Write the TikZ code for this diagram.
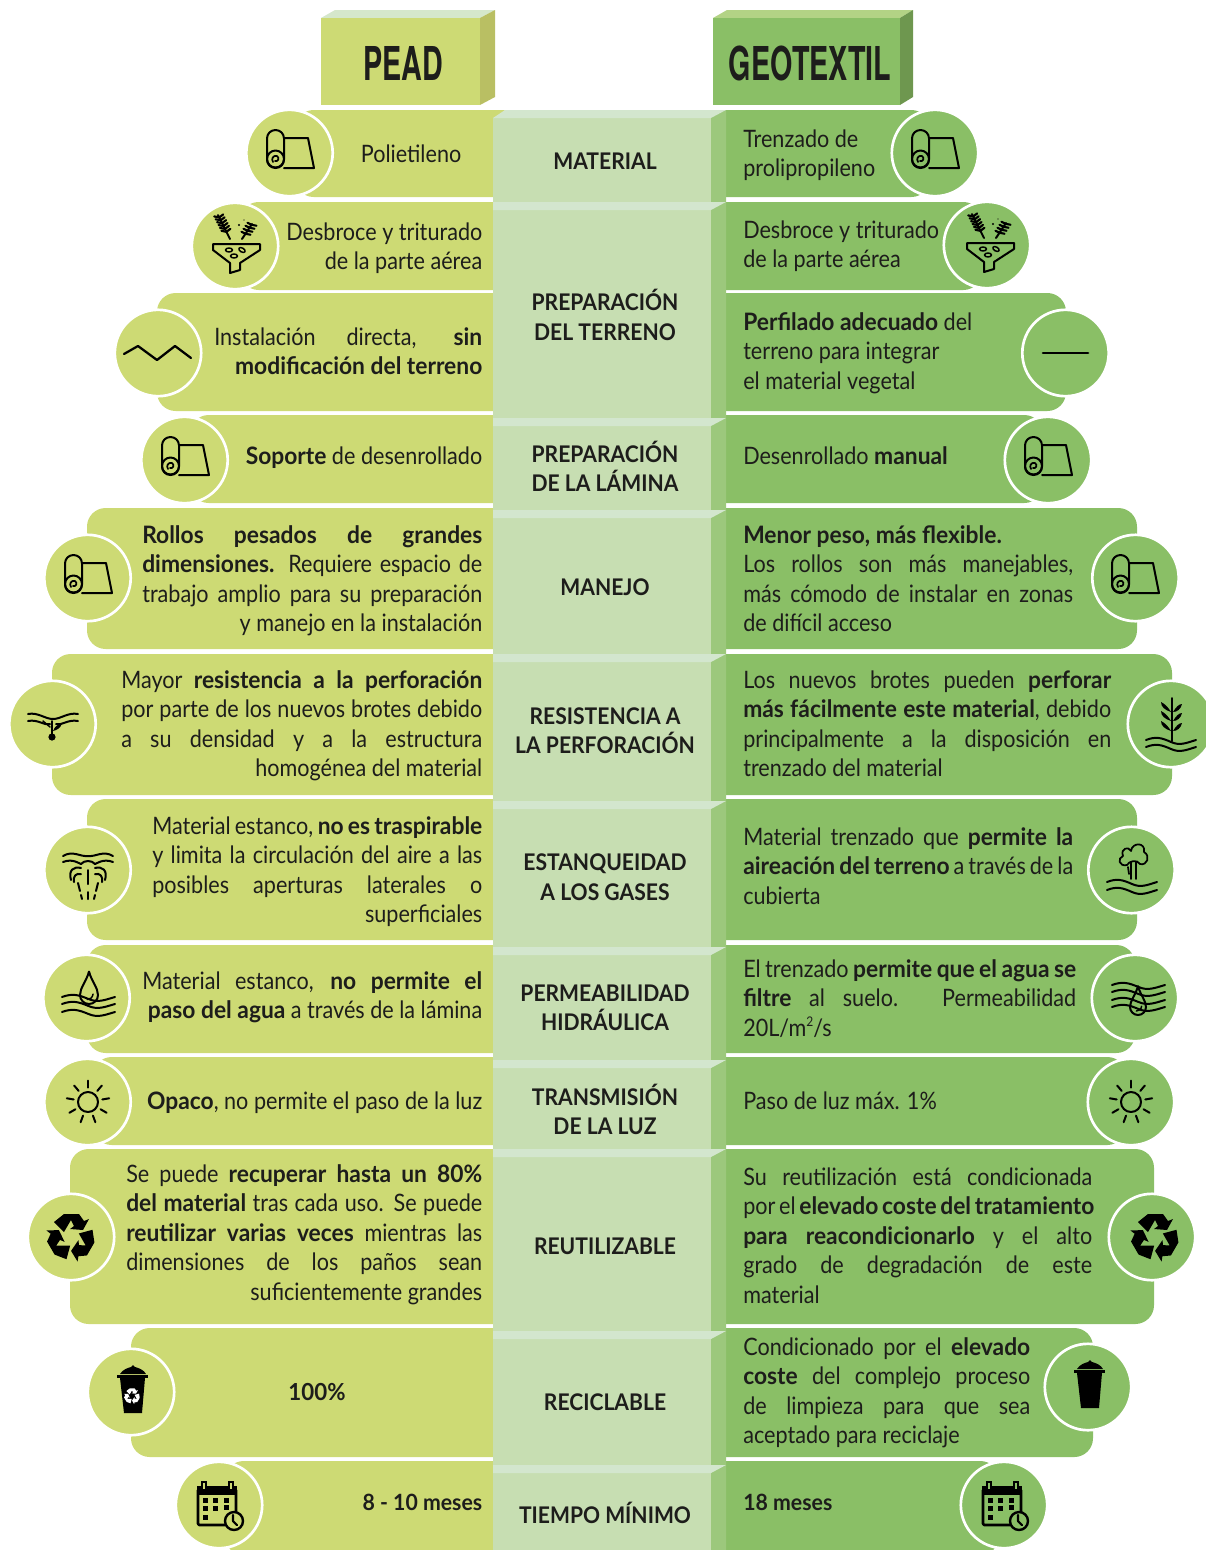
\documentclass[tikz,border=0pt]{standalone}
\usepackage{fontspec}
\setmainfont{Lato}[UprightFont=* Regular,BoldFont=* Bold,UprightFeatures={FakeStretch=.9},BoldFeatures={FakeStretch=.95}]
\newfontfamily\headf{TeX Gyre Heros}[BoldFont=* Bold,FakeStretch=.615]
\newfontfamily\centf{Lato}[UprightFont=* Bold,FakeStretch=.92]
\definecolor{pead}{HTML}{CDDA74}
\definecolor{peadside}{HTML}{B9BF63}
\definecolor{peadtop}{HTML}{D5E7CB}
\definecolor{geo}{HTML}{8ABF66}
\definecolor{geoside}{HTML}{6E974F}
\definecolor{geotop}{HTML}{B3D385}
\definecolor{cen}{HTML}{C7DEB2}
\definecolor{centop}{HTML}{D3E6CE}
\definecolor{censide}{HTML}{9CC87C}
\definecolor{ink}{HTML}{1D1D1B}
\newcommand\lnJ[1]{\makebox[\linewidth][s]{#1}\par}
\newcommand\lnR[1]{\hbox to\linewidth{\hfill #1}\par}
\newcommand\lnL[1]{\hbox to\linewidth{#1\hfill}\par}
\newcommand\blk[5]{\node[anchor=base west,inner sep=0pt,text=ink,font=\fontsize{18}{22.2}\selectfont] (#1) at (#2,#3) {\parbox[t]{\dimexpr#4pt*3/4\relax}{\parindent=0pt\baselineskip=22.2pt\lineskiplimit=-20pt #5}};}
\newcommand\cenlab[4]{\node[anchor=base,inner sep=0pt,text=ink,font=\centf\fontsize{17.2}{21}\selectfont] (#1) at (#2,#3) {#4};}
\newcommand\lband[3]{\fill[pead,rounded corners=14pt] (520,#1) rectangle (#3,#2);}
\newcommand\rband[3]{\fill[geo,rounded corners=14pt] (700,#1) rectangle (#3,#2);}
\newcommand\topface[1]{\fill[centop] (493,#1+8) -- (493,#1) -- (726,#1) -- (711,#1+8) -- cycle;}
\tikzset{
 ring/.style={circle,draw=white,line width=2pt,minimum size=64.8pt,inner sep=0pt},
 ringl/.style={ring,fill=pead},
 ringr/.style={ring,fill=geo},
 ic/.style={draw=black,line width=1.5pt,line cap=round,line join=round},
 icf/.style={fill=black,draw=none}
}
\newcommand\iroll{
 \draw[ic,rounded corners=6.3pt] (-23,-23) rectangle (-6,15);
 \draw[ic] (-6,-15) -- (18,-15) -- (24,15) -- (-6,15);
 \draw[ic] (-14.5,6) circle (8.5);
 \draw[ic,line width=1.3pt] (-15,8) .. controls (-12,9) and (-10,5) .. (-13,3) .. controls (-17,2) and (-19,6) .. (-17,9);
}
\newcommand\ifunnel{
 \draw[ic] (-22,-2) -- (25,-2) -- (25,4) -- (5,17) -- (5,24) -- (-5,27) -- (-5,17) -- (-22,4) -- cycle;
 \draw[ic] (-5,-7) -- (-17,-31);
 \draw[ic] (7,-7) -- (17,-22);
 \foreach \t in {.3,.42,.54,.66,.78,.9}{
  \draw[ic,line width=1.6pt] ($(-5,-7)!\t!(-17,-31)$) -- ++(-5,-1);
  \draw[ic,line width=1.6pt] ($(-5,-7)!\t!(-17,-31)$) -- ++(4,-3);
 }
 \foreach \t in {.35,.55,.75,.95}{
  \draw[ic,line width=1.6pt] ($(7,-7)!\t!(17,-22)$) -- ++(-4,-2);
  \draw[ic,line width=1.6pt] ($(7,-7)!\t!(17,-22)$) -- ++(5,1);
 }
 \draw[ic,line width=1.1pt] (-6,4) ellipse (3.5 and 2);
 \draw[ic,line width=1.1pt,rotate around={-30:(7,4)}] (7,4) ellipse (3.5 and 2);
 \draw[ic,line width=1.1pt] (-1,10) ellipse (3.5 and 2);
 \fill (4,-21) circle (1.2);
 \fill (9,-26) circle (.7);
}
\newcommand\wave[3]{\draw[ic] (#1,#3) .. controls ({#1+(#2-#1)*.2},{#3-4}) and ({#1+(#2-#1)*.32},{#3-2}) .. ({(#1+#2)/2},{#3+2}) .. controls ({#1+(#2-#1)*.68},{#3+6}) and ({#1+(#2-#1)*.8},{#3+3}) .. (#2,#3);}
\newcommand\idrop[3]{
 \draw[ic] (#1,#2-#3*2.6) .. controls (#1-#3*.3,#2-#3*1.5) and (#1-#3,#2-#3*.8) .. (#1-#3,#2) arc[start angle=180,end angle=360,radius=#3,y radius=-#3] .. controls (#1+#3,#2-#3*.8) and (#1+#3*.3,#2-#3*1.5) .. cycle;
 \draw[ic,line width=1.1pt] (#1+#3*.45,#2-#3*.1) .. controls (#1+#3*.4,#2+#3*.3) and (#1+#3*.1,#2+#3*.5) .. (#1-#3*.2,#2+#3*.5);
}
\newcommand\iroot{
 \draw[ic] (-25,-10) .. controls (-15,-12) and (-8,-5) .. (0,-5) .. controls (8,-5) and (15,-12) .. (25,-10);
 \draw[ic] (-25,-3) .. controls (-15,-5) and (-8,2) .. (-3,0);
 \draw[ic] (3,0) .. controls (8,2) and (15,-5) .. (25,-3);
 \draw[ic] (-1,-3) -- (-1,10);
 \fill (-1,13) circle (3.6);
 \fill (0,7) .. controls (2,1) and (7,0) .. (9,-1) .. controls (8,4) and (4,6) .. cycle;
 \draw[ic,line width=1.1pt] (-3,3) -- (-10,-3);
}
\newcommand\ifount{
 \draw[ic] (-25,-14) .. controls (-15,-20) and (-8,-13) .. (0,-14) .. controls (8,-13) and (15,-20) .. (25,-14);
 \draw[ic] (-25,-8) .. controls (-15,-12) and (-8,-6) .. (-7,-6);
 \draw[ic] (7,-6) .. controls (8,-6) and (15,-12) .. (25,-8);
 \draw[ic] (-7,-6) .. controls (-4,-10) and (4,-10) .. (7,-6);
 \draw[ic] (-17,10) .. controls (-20,0) and (-14,-4) .. (-7,-2);
 \draw[ic] (17,10) .. controls (20,0) and (14,-4) .. (7,-2);
 \draw[ic] (-14,12) .. controls (-15,6) and (-12,3) .. (-7,4);
 \draw[ic] (14,12) .. controls (15,6) and (12,3) .. (7,4);
 \draw[ic] (0,0) -- (0,14);
 \draw[ic] (-10,13) -- (-8,21);
 \draw[ic] (10,13) -- (8,21);
 \draw[ic] (-7,25) -- (-6,29);
 \draw[ic] (0,22) -- (0,29);
 \draw[ic] (7,25) -- (6,29);
}
\newcommand\iplant{
 \draw[ic] (1,-26) -- (1,17);
 \foreach \y in {-12,-3,7}{
  \fill (0,\y) .. controls (-3,\y-5) and (-6,\y-8) .. (-10,\y-10) .. controls (-10,\y-5) and (-6,\y-2) .. cycle;
  \fill (2,\y) .. controls (5,\y-5) and (8,\y-8) .. (11,\y-8) .. controls (10,\y-3) and (6,\y) .. cycle;
 }
 \wave{-25}{25}{16}
 \wave{-25}{25}{23}
}
\newcommand\icloud{
 \draw[ic,line width=1.3pt] (-4,-5) .. controls (-12,-3) and (-14,-12) .. (-8,-14) .. controls (-11,-22) and (-2,-24) .. (0,-19) .. controls (1,-28) and (15,-28) .. (13,-18) .. controls (20,-14) and (16,-4) .. (9,-6);
 \draw[ic,line width=1.3pt] (-4,-5) .. controls (-2,-9) and (6,-11) .. (9,-6);
 \draw[ic,line width=1.3pt] (0,-8) -- (0,9);
 \draw[ic,line width=1.3pt] (5,-8) -- (5,9);
 \draw[ic,line width=1.3pt] (-3,-3) .. controls (-2,0) .. (-2,4);
 \wave{-24}{26}{12}
 \wave{-24}{26}{20}
}
\newcommand\isun{
 \draw[ic] (0,0) circle (10);
 \foreach \a in {-90,-50,-10,30,70,110,150,190,230}{\draw[ic] (\a:14.5) -- (\a:21.5);}
}
\newcommand\recarrow{(-17,-15) -- (-7,-23) -- (8,-23) -- (13,-16) -- (18,-18) -- (12,-7) -- (-1,-8) -- (3,-11) -- (0,-17) -- (-7,-5) -- cycle}
\newcommand\irecy[1]{
 \foreach \r in {0,120,240}{
  \fill[#1,rotate=\r,line join=round] \recarrow;
 }
}
\newcommand\ibin{
 \fill[black] (-11,-14) -- (-7,21) -- (11,21) -- (14,-14) -- cycle;
 \fill[black] (-14,-17) rectangle (17,-14.5);
 \fill[black] (-11,-18) .. controls (-8,-23) and (-3,-24) .. (0,-25) -- (2,-27) -- (4,-25) .. controls (8,-24) and (13,-22) .. (15,-18) -- cycle;
}
\newcommand\ical{
 \draw[ic,line width=2pt,rounded corners=1pt] (-21,-16) rectangle (17,20);
 \fill[black] (-22,-19) rectangle (18,-10);
 \foreach \x in {-15,12}{\fill[black] (\x-3,-24) rectangle (\x+3,-14); \fill[\icbg] (\x-1.2,-22.5) rectangle (\x+1.2,-16);}
 \foreach \x/\y in {-14/-5,-4/-5,7/-5,-14/3,-4/3,-14/12,7/2}{\fill[black] (\x-2.5,\y-2.5) rectangle (\x+2.5,\y+2.5);}
 \draw[ic,line width=1.8pt,fill=\icbg] (15,16) circle (9);
 \draw[ic,line width=1.6pt] (14,10) -- (14,16) -- (18,20);
}
\usetikzlibrary{calc}
\begin{document}
\begin{tikzpicture}[x=.75pt,y=-.75pt]
\useasboundingbox (0,0) rectangle (1206,1550);
% headers
\fill[peadtop] (321,18) -- (335,10) -- (495,10) -- (480,18) -- cycle;
\fill[peadside] (480,18) -- (495,10) -- (495,97) -- (480,105) -- cycle;
\fill[pead] (321,18) rectangle (480,105);
\fill[geotop] (713,18) -- (727,10) -- (913,10) -- (900,18) -- cycle;
\fill[geoside] (900,18) -- (913,10) -- (913,97) -- (900,105) -- cycle;
\fill[geo] (713,18) rectangle (900,105);
\node[anchor=base,inner sep=0pt,text=ink,font=\headf\bfseries\fontsize{35}{40}\selectfont] (hpead) at (403.5,80) {PEAD};
\node[anchor=base,inner sep=0pt,text=ink,font=\headf\bfseries\fontsize{35}{40}\selectfont] (hgeo) at (810,80) {GEOTEXTIL};
% bands
\lband{110}{197}{295}\rband{110}{197}{930}
\lband{202}{290}{240}\rband{202}{290}{982}
\lband{293}{411}{157}\rband{293}{411}{1066}
\lband{415}{503}{190}\rband{415}{503}{1043}
\lband{508}{649}{87}\rband{508}{649}{1137}
\lband{654}{795}{52}\rband{654}{795}{1172}
\lband{799}{940}{87}\rband{799}{940}{1137}
\lband{945}{1053}{87}\rband{945}{1053}{1135}
\lband{1057}{1145}{93}\rband{1057}{1145}{1126}
\lband{1149}{1324}{70}\rband{1149}{1324}{1154}
\lband{1328}{1457}{131}\rband{1328}{1457}{1093}
\lband{1461}{1555}{225}\rband{1461}{1555}{999}
% centre
\fill[censide] (711,118) -- (726,110) -- (726,1550) -- (711,1550) -- cycle;
\fill[cen] (493,118) rectangle (711,1550);
\fill[centop] (493,118) -- (505,110) -- (726,110) -- (711,118) -- cycle;
\topface{202}\topface{418}\topface{510}\topface{654}\topface{801}\topface{947}\topface{1060}\topface{1149}\topface{1331}\topface{1465}
\cenlab{c1}{605}{169}{MATERIAL}
\cenlab{c2a}{605}{310}{PREPARACIÓN}
\cenlab{c2b}{605}{340}{DEL TERRENO}
\cenlab{c3a}{605}{462}{PREPARACIÓN}
\cenlab{c3b}{605}{491}{DE LA LÁMINA}
\cenlab{c4}{605}{595}{MANEJO}
\cenlab{c5a}{605}{724}{RESISTENCIA A}
\cenlab{c5b}{605}{753}{LA PERFORACIÓN}
\cenlab{c6a}{605}{870}{ESTANQUEIDAD}
\cenlab{c6b}{605}{900}{A LOS GASES}
\cenlab{c7a}{605}{1001}{PERMEABILIDAD}
\cenlab{c7b}{605}{1030}{HIDRÁULICA}
\cenlab{c8a}{605}{1105}{TRANSMISIÓN}
\cenlab{c8b}{605}{1134}{DE LA LUZ}
\cenlab{c9}{605}{1254}{REUTILIZABLE}
\cenlab{c10}{605}{1410}{RECICLABLE}
\cenlab{c11}{605}{1523}{TIEMPO MÍNIMO}
% circles
\node[ringl] (la) at (289.5,153) {};\node[ringr] (ra) at (935,153) {};
\node[ringl] (lb) at (235,246) {};\node[ringr] (rb) at (987,245) {};
\node[ringl] (lc) at (158,353) {};\node[ringr] (rc) at (1065.5,353) {};
\node[ringl] (ld) at (184.5,460) {};\node[ringr] (rd) at (1048,460) {};
\node[ringl] (le) at (87.5,578) {};\node[ringr] (re) at (1135.5,578) {};
\node[ringl] (lf) at (52.5,724) {};\node[ringr] (rf) at (1171,724) {};
\node[ringl] (lg) at (87.5,870) {};\node[ringr] (rg) at (1131.5,870) {};
\node[ringl] (lh) at (86.5,998) {};\node[ringr] (rh) at (1135,998) {};
\node[ringl] (li) at (87.5,1102) {};\node[ringr] (ri) at (1131,1102) {};
\node[ringl] (lj) at (71,1237) {};\node[ringr] (rj) at (1152,1237) {};
\node[ringl] (lk) at (131,1392) {};\node[ringr] (rk) at (1088,1387) {};
\node[ringl] (ll) at (219,1505) {};\node[ringr] (rl) at (1004,1505) {};
% icons
\begin{scope}[shift={(290,153)}]\iroll\end{scope}
\begin{scope}[shift={(935,153)}]\iroll\end{scope}
\begin{scope}[shift={(235,246)}]\ifunnel\end{scope}
\begin{scope}[shift={(989,245)}]\ifunnel\end{scope}
\draw[ic,line width=1.7pt] (124,354) -- (138,346) -- (157,360) -- (175,346) -- (191,358);
\draw[ic,line width=2pt] (1043,353) -- (1088,353);
\begin{scope}[shift={(185,460)}]\iroll\end{scope}
\begin{scope}[shift={(1048,460)}]\iroll\end{scope}
\begin{scope}[shift={(88,578)}]\iroll\end{scope}
\begin{scope}[shift={(1135,578)}]\iroll\end{scope}
\begin{scope}[shift={(53,724)}]\iroot\end{scope}
\begin{scope}[shift={(1171,724)}]\iplant\end{scope}
\begin{scope}[shift={(88,870)}]\ifount\end{scope}
\begin{scope}[shift={(1131,870)}]\icloud\end{scope}
\begin{scope}[shift={(87,998)}]\idrop{2}{-3}{9}\wave{-25}{28}{-1}\wave{-25}{28}{6}\wave{-25}{28}{14}\end{scope}
\begin{scope}[shift={(1135,998)}]\idrop{3}{9}{8}\wave{-23}{30}{-13}\wave{-23}{30}{-6}\wave{-23}{30}{2}\wave{-23}{30}{9}\end{scope}
\begin{scope}[shift={(88,1102)}]\isun\end{scope}
\begin{scope}[shift={(1131,1102)}]\isun\end{scope}
\begin{scope}[shift={(71,1237)}]\irecy{black}\end{scope}
\begin{scope}[shift={(1155,1237)}]\irecy{black}\end{scope}
\begin{scope}[shift={(131,1392)}]\ibin\begin{scope}[shift={(1,4)},scale=.33]\irecy{white}\end{scope}\end{scope}
\begin{scope}[shift={(1088,1387)}]\ibin\end{scope}
\def\icbg{pead}\begin{scope}[shift={(219,1505)}]\ical\end{scope}
\def\icbg{geo}\begin{scope}[shift={(1004,1505)}]\ical\end{scope}
% left texts
\blk{ta}{351}{162}{110}{\lnR{Polietileno}}
\blk{tb}{282}{240}{200}{\lnR{Desbroce y triturado}\lnR{de la parte aérea}}
\blk{tc}{214}{345}{268}{\lnJ{Instalación directa, \textbf{sin}}\lnR{\textbf{modificación del terreno}}}
\blk{td}{232}{464}{250}{\lnR{\textbf{Soporte} de desenrollado}}
\blk{te}{142}{543}{340}{\lnJ{\textbf{Rollos pesados de grandes}}\lnJ{\textbf{dimensiones.} Requiere espacio de}\lnJ{trabajo amplio para su preparación}\lnR{y manejo en la instalación}}
\blk{tf}{121}{688}{361}{\lnJ{Mayor \textbf{resistencia a la perforación}}\lnJ{por parte de los nuevos brotes debido}\lnJ{a su densidad y a la estructura}\lnR{homogénea del material}}
\blk{tg}{152}{834}{330}{\lnR{Material estanco, \textbf{no es traspirable}}\lnJ{y limita la circulación del aire a las}\lnJ{posibles aperturas laterales o}\lnR{superficiales}}
\blk{th}{142}{989}{340}{\lnJ{Material estanco, \textbf{no permite el}}\lnR{\textbf{paso del agua} a través de la lámina}}
\blk{ti}{130}{1109}{352}{\lnR{\textbf{Opaco}, no permite el paso de la luz}}
\blk{tj}{126}{1182}{356}{\lnJ{Se puede \textbf{recuperar hasta un 80\%}}\lnJ{\textbf{del material} tras cada uso. Se puede}\lnJ{\textbf{reutilizar varias veces} mientras las}\lnJ{dimensiones de los paños sean}\lnR{suficientemente grandes}}
\node[anchor=base,inner sep=0pt,text=ink,font=\bfseries\fontsize{17.6}{22.2}\selectfont] (tk) at (317,1400) {100\%};
\blk{tl}{350}{1510}{132}{\lnR{\fontsize{16.8}{22.2}\selectfont\textbf{8 - 10 meses}}}
% right texts
\blk{ua}{743}{147}{145}{\lnL{Trenzado de}\lnL{prolipropileno}}
\blk{ub}{743}{238}{200}{\lnL{Desbroce y triturado}\lnL{de la parte aérea}}
\blk{uc}{743}{330}{260}{\lnL{\textbf{Perfilado adecuado} del}\lnL{terreno para integrar}\lnL{el material vegetal}}
\blk{ud}{743}{464}{250}{\lnL{Desenrollado \textbf{manual}}}
\blk{ue}{743}{543}{330}{\lnL{\textbf{Menor peso, más flexible.}}\lnJ{Los rollos son más manejables,}\lnJ{más cómodo de instalar en zonas}\lnL{de difícil acceso}}
\blk{uf}{743}{688}{368}{\lnJ{Los nuevos brotes pueden \textbf{perforar}}\lnJ{\textbf{más fácilmente este material}, debido}\lnJ{principalmente a la disposición en}\lnL{trenzado del material}}
\blk{ug}{743}{845}{330}{\lnJ{Material trenzado que \textbf{permite la}}\lnJ{\textbf{aireación del terreno} a través de la}\lnL{cubierta}}
\blk{uh}{743}{977}{333}{\lnJ{El trenzado \textbf{permite que el agua se}}\lnJ{\textbf{filtre} al suelo. Permeabilidad}\lnL{20L/m\raisebox{.42em}{\fontsize{10}{10}\selectfont 2}/s}}
\blk{ui}{743}{1109}{250}{\lnL{Paso de luz máx. 1\%}}
\blk{uj}{743}{1185}{349}{\lnJ{Su reutilización está condicionada}\lnJ{por el \textbf{elevado coste del tratamiento}}\lnJ{\textbf{para reacondicionarlo} y el alto}\lnJ{grado de degradación de este}\lnL{material}}
\blk{uk}{743}{1355}{287}{\lnJ{Condicionado por el \textbf{elevado}}\lnJ{\textbf{coste} del complejo proceso}\lnJ{de limpieza para que sea}\lnL{aceptado para reciclaje}}
\blk{ul}{743}{1510}{120}{\lnL{\fontsize{16.8}{22.2}\selectfont\textbf{18 meses}}}
\end{tikzpicture}
\end{document}
